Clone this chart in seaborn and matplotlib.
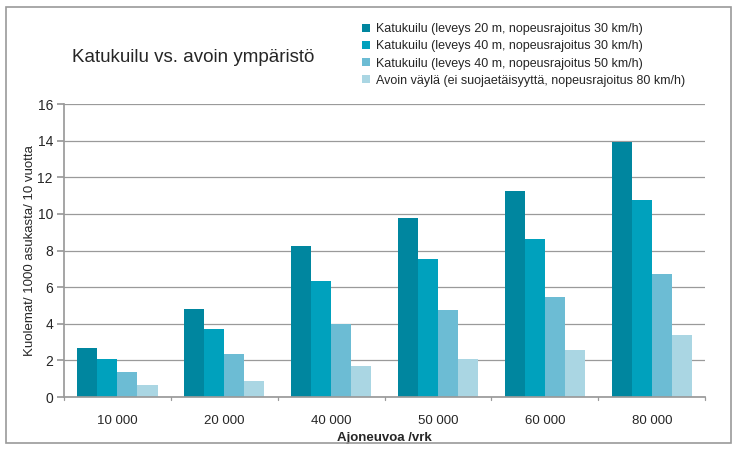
import matplotlib
matplotlib.use("Agg")
import matplotlib.pyplot as plt
import seaborn as sns
import pandas as pd
from matplotlib.patches import Rectangle, Patch

categories = ["10 000", "20 000", "40 000", "50 000", "60 000", "80 000"]
series_names = [
    "Katukuilu (leveys 20 m, nopeusrajoitus 30 km/h)",
    "Katukuilu (leveys 40 m, nopeusrajoitus 30 km/h)",
    "Katukuilu (leveys 40 m, nopeusrajoitus 50 km/h)",
    "Avoin väylä (ei suojaetäisyyttä, nopeusrajoitus 80 km/h)",
]
s1 = [2.7, 4.8, 8.25, 9.8, 11.25, 13.95]
s2 = [2.1, 3.7, 6.35, 7.55, 8.65, 10.75]
s3 = [1.35, 2.35, 4.0, 4.75, 5.45, 6.7]
s4 = [0.65, 0.85, 1.7, 2.1, 2.55, 3.4]
colors = ["#00869f", "#00a1bd", "#6cbcd4", "#aad6e3"]

rows = []
for name, vals in zip(series_names, [s1, s2, s3, s4]):
    for c, v in zip(categories, vals):
        rows.append({"cat": c, "series": name, "val": v})
df = pd.DataFrame(rows)

sns.set_theme(style="white")
plt.rcParams["font.family"] = ["Liberation Sans", "DejaVu Sans"]

fig = plt.figure(figsize=(7.4, 4.51), dpi=100)
ax = fig.add_axes([0.0865, 0.1197, 0.8665, 0.6493])

sns.barplot(data=df, x="cat", y="val", hue="series", order=categories,
            hue_order=series_names, palette=colors, width=0.75, gap=0,
            linewidth=0, saturation=1, ax=ax, legend=False)

ax.set_ylim(0, 16)
ax.set_yticks(range(0, 17, 2))
ax.set_xlim(-0.5, 5.5)
ax.yaxis.grid(True, color="#9a9a9a", linewidth=0.9)
ax.set_axisbelow(True)
for s in ["top", "right"]:
    ax.spines[s].set_visible(False)
ax.spines["left"].set_color("#9a9a9a")
ax.spines["bottom"].set_color("#9a9a9a")
ax.tick_params(axis="y", left=True, length=5, color="#9a9a9a", labelsize=10, pad=3)
ax.tick_params(axis="x", bottom=False, labelsize=9.5, pad=7)
# category separator ticks
for b in [i - 0.5 for i in range(7)]:
    ax.plot([b, b], [0, -0.18], color="#9a9a9a", lw=0.9, clip_on=False)

ax.set_xlabel("Ajoneuvoa /vrk", fontsize=9.5, fontweight="bold")
ax.xaxis.set_label_coords(0.5, -41 / 293, transform=ax.transAxes)
ax.xaxis.label.set_va("center")
ax.set_ylabel("Kuolemat/ 1000 asukasta/ 10 vuotta", fontsize=9.5)
ax.yaxis.set_label_coords(-28 / 641, 0.5)

fig.text(0.097, 0.873, "Katukuilu vs. avoin ympäristö", fontsize=13.5, va="center", ha="left")

handles = [Patch(facecolor=c, edgecolor="none") for c in colors]
fig.legend(handles, series_names, loc="upper left", bbox_to_anchor=(0.483, 0.96),
           frameon=False, fontsize=9, handlelength=0.6, handleheight=0.6,
           handletextpad=0.5, labelspacing=0.42, borderaxespad=0)

fig.patches.append(Rectangle((0.008, 0.017), 0.98, 0.967, transform=fig.transFigure,
                             fill=False, edgecolor="#9a9a9a", linewidth=1.2))

fig.savefig("out.png", dpi=100)
